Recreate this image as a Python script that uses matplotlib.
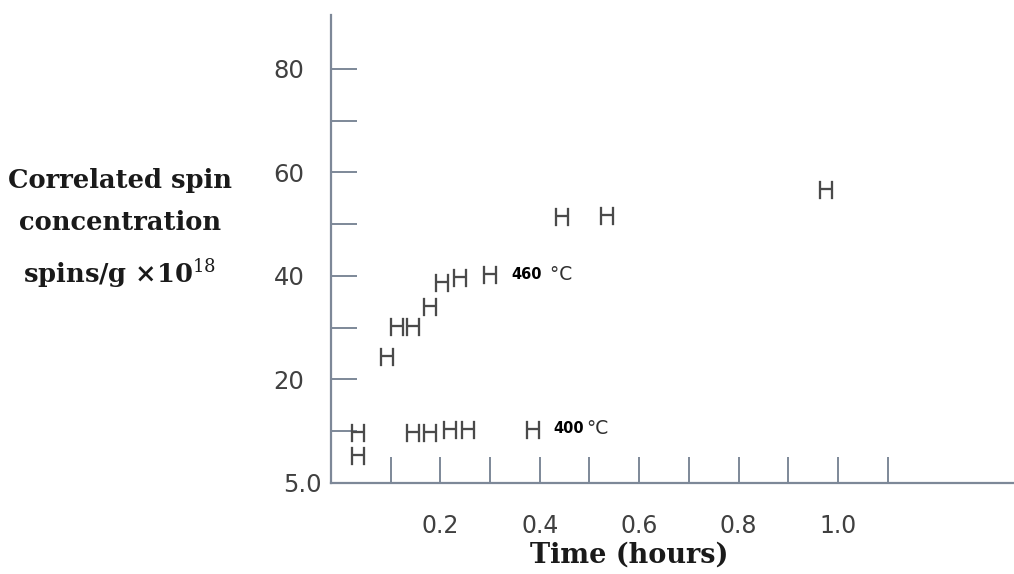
import matplotlib
matplotlib.use('Agg')
import matplotlib.pyplot as plt
from matplotlib.transforms import ScaledTranslation

# ---- data ----
t460 = [0.093, 0.113, 0.145, 0.179, 0.203, 0.239, 0.300, 0.445, 0.535, 0.976]
s460 = [24.3, 30.1, 30.1, 34.0, 38.6, 39.6, 40.2, 51.4, 51.6, 56.6]
t400 = [0.034, 0.034, 0.145, 0.179, 0.219, 0.256, 0.386]
s400 = [9.7, 5.2, 9.7, 9.7, 10.2, 10.2, 10.2]

ytick_vals = [0, 20, 40, 60, 80]
ytick_labels = ['5.0', '20', '40', '60', '80']
yminor_vals = [10, 30, 50, 70]
xtick_vals = [0.2, 0.4, 0.6, 0.8, 1.0]
xtick_labels = ['0.2', '0.4', '0.6', '0.8', '1.0']
xminor_vals = [0.1, 0.3, 0.5, 0.7, 0.9, 1.1]

label460 = ('460', '°C')
label460_pos = (0.342, 40.2)
label400 = ('400', '°C')
label400_pos = (0.427, 10.6)

plt.rcParams['mathtext.fontset'] = 'dejavuserif'

fig = plt.figure(figsize=(10.14, 5.74), dpi=100)
ax = fig.add_axes([331/1014, 91/574, 1 - 331/1014, (483-15)/574])
ax.set_xlim(-0.02, 1.354)
ax.set_ylim(0, 90.4)

spine_c = '#7d8898'
for s in ['top', 'right']:
    ax.spines[s].set_visible(False)
for s in ['left', 'bottom']:
    ax.spines[s].set_color(spine_c)
    ax.spines[s].set_linewidth(1.6)

ax.set_xticks(xtick_vals)
ax.set_xticklabels(xtick_labels)
ax.set_xticks(xminor_vals, minor=True)
ax.set_yticks(ytick_vals)
ax.set_yticklabels(ytick_labels)
ax.set_yticks(yminor_vals, minor=True)

ax.tick_params(which='both', direction='in', length=19, width=1.4, color=spine_c)
ax.tick_params(axis='x', which='major', pad=22, labelsize=17, labelcolor='#404040')
ax.tick_params(axis='y', which='major', pad=19, labelsize=17.5, labelcolor='#404040')
ax.yaxis.get_major_ticks()[0].tick1line.set_visible(False)
lab0 = ax.get_yticklabels()[0]
lab0.set_transform(lab0.get_transform() + ScaledTranslation(17/100, 0, fig.dpi_scale_trans))

# data markers (letter H, sans-serif)
mk = dict(marker=r'$\mathsf{H}$', linestyle='none', markersize=13.5,
          color='#4a4a4a', markeredgewidth=0.2, markeredgecolor='#4a4a4a', clip_on=False)
ax.plot(t460, s460, **mk)
ax.plot(t400, s400, **mk)

# temperature labels
for (num, unit), (x, y) in [(label460, label460_pos), (label400, label400_pos)]:
    t1 = ax.text(x, y, num, fontsize=10.5, fontweight='bold', color='black',
                 ha='left', va='center', family='DejaVu Sans')
    sep = ' ' if num == '460' else ''
    ax.annotate(sep + unit, xy=(1, 0.5), xycoords=t1, xytext=(1.5, 0),
                textcoords='offset points', fontsize=13.5, color='#303030',
                ha='left', va='center', family='DejaVu Sans')

# axis titles
serif = dict(family='DejaVu Serif', fontweight='bold', color='#1a1a1a')
fig.text(120/1014, 1 - 229/574,
         'Correlated spin\nconcentration\nspins/g \u00d710$^{18}$',
         ha='center', va='center', multialignment='center', fontsize=18.5,
         linespacing=1.85, **serif)
fig.text(629/1014, 1 - 555/574, 'Time (hours)', ha='center', va='center',
         fontsize=19.5, **serif)

fig.savefig('out.png', dpi=100)
